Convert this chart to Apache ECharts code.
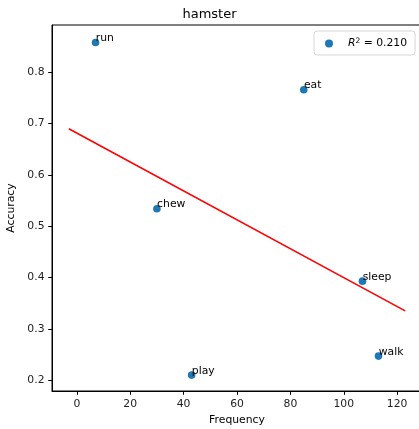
<!DOCTYPE html>
<html>
<head>
<meta charset="utf-8">
<script src="https://cdn.jsdelivr.net/npm/echarts@6/dist/echarts.min.js"></script>
<style>
  html, body { margin: 0; padding: 0; background: #fff; }
</style>
</head>
<body>
<div id="chart" style="width:419px;height:429px;"></div>
<script>
// words and their (frequency, accuracy)
var words = ['run', 'eat', 'chew', 'sleep', 'walk', 'play'];
var freq = [7, 85, 30, 107, 113, 43];
var acc = [0.858, 0.766, 0.534, 0.393, 0.247, 0.210];
// fitted line
var fitX = [-3, 123];
var fitY = [0.690, 0.335];
var r2Text = '0.210';
var xTicks = [0, 20, 40, 60, 80, 100, 120];
var yTicks = [0.2, 0.3, 0.4, 0.5, 0.6, 0.7, 0.8];

var font = 'DejaVu Sans';
var chart = echarts.init(document.getElementById('chart'));

var points = words.map(function (w, i) {
  return { name: w, value: [freq[i], acc[i]] };
});
var linePts = fitX.map(function (x, i) { return [x, fitY[i]]; });

var option = {
  animation: false,
  title: {
    text: 'hamster',
    left: 'center',
    top: 3,
    textStyle: { fontFamily: font, fontSize: 13, fontWeight: 'normal', color: '#000' }
  },
  legend: {
    data: ['fit'],
    left: 314,
    top: 31,
    padding: [6, 8, 6, 11],
    backgroundColor: '#fff',
    borderColor: '#d6d6d6',
    borderWidth: 1,
    borderRadius: 3,
    itemWidth: 8,
    itemHeight: 8,
    icon: 'circle',
    formatter: function () { return '{i|R}{s|2} = ' + r2Text; },
    textStyle: {
      fontFamily: font, fontSize: 10.8, color: '#000',
      padding: [0, 0, 0, 10],
      rich: {
        i: { fontFamily: font, fontStyle: 'italic', fontSize: 10.8, color: '#000' },
        s: { fontFamily: font, fontSize: 7.5, color: '#000', verticalAlign: 'top', padding: [0, 0, 5, 0] }
      }
    }
  },
  grid: { left: 52, right: -3, top: 25, bottom: 38, show: true, borderColor: '#000', borderWidth: 1,
    outerBoundsMode: 'none', containLabel: false },
  xAxis: {
    type: 'value',
    min: -9.3,
    max: 129.3,
    name: 'Frequency',
    nameLocation: 'middle',
    nameGap: 22,
    nameTextStyle: { fontFamily: font, fontSize: 10.8, color: '#000' },
    axisLine: { show: true, onZero: false, lineStyle: { color: '#000' } },
    axisTick: { show: true, length: 3.8, lineStyle: { color: '#000' }, customValues: xTicks },
    axisLabel: { fontFamily: font, fontSize: 10.8, color: '#222', margin: 7.5, customValues: xTicks },
    splitLine: { show: false }
  },
  yAxis: {
    type: 'value',
    min: 0.179,
    max: 0.892,
    name: 'Accuracy',
    nameLocation: 'middle',
    nameGap: 30,
    nameTextStyle: { fontFamily: font, fontSize: 10.8, color: '#000' },
    axisLine: { show: true, onZero: false, lineStyle: { color: '#000' } },
    axisTick: { show: true, length: 3.8, lineStyle: { color: '#000' }, customValues: yTicks },
    axisLabel: { fontFamily: font, fontSize: 10.8, color: '#222', margin: 7.5, customValues: yTicks,
      formatter: function (v) { return v.toFixed(1); } },
    splitLine: { show: false }
  },
  series: [
    {
      name: 'fit',
      type: 'scatter',
      data: points,
      symbolSize: 7.6,
      itemStyle: { color: '#1f77b4', opacity: 1 },
      label: {
        show: true,
        formatter: '{b}',
        position: [4, 5],
        align: 'left',
        verticalAlign: 'bottom',
        fontFamily: font,
        fontSize: 10.8,
        color: '#000'
      },
      z: 3
    },
    {
      name: 'line',
      type: 'line',
      data: linePts,
      symbol: 'none',
      lineStyle: { color: '#ff0000', width: 1.6 },
      z: 2
    }
  ]
};
chart.setOption(option);
</script>
</body>
</html>
